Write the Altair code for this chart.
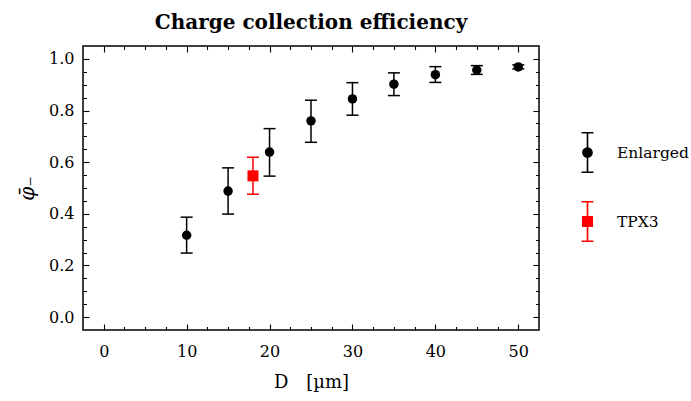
import altair as alt
import pandas as pd

# ---- data ----
D_enl = [10, 15, 20, 25, 30, 35, 40, 45, 50]
phi_enl = [0.317, 0.488, 0.639, 0.760, 0.845, 0.902, 0.939, 0.957, 0.969]
lo_enl = [0.248, 0.399, 0.546, 0.677, 0.782, 0.858, 0.909, 0.940, 0.961]
hi_enl = [0.387, 0.578, 0.730, 0.840, 0.908, 0.946, 0.970, 0.974, 0.977]

D_tpx = [18]
phi_tpx = [0.547]
lo_tpx = [0.476]
hi_tpx = [0.619]

series_names = ["Enlarged", "TPX3"]
series_colors = ["black", "red"]

x_major = [0, 10, 20, 30, 40, 50]
x_minor = [2.5, 5, 7.5, 12.5, 15, 17.5, 22.5, 25, 27.5, 32.5, 35, 37.5, 42.5, 45, 47.5]
y_major = [0.0, 0.2, 0.4, 0.6, 0.8, 1.0]
y_minor = [0.05, 0.1, 0.15, 0.25, 0.3, 0.35, 0.45, 0.5, 0.55, 0.65, 0.7, 0.75,
           0.85, 0.9, 0.95]

rows = []
for d, p, l, h in zip(D_enl, phi_enl, lo_enl, hi_enl):
    rows.append(dict(D=d, phi=p, lo=l, hi=h, series="Enlarged"))
for d, p, l, h in zip(D_tpx, phi_tpx, lo_tpx, hi_tpx):
    rows.append(dict(D=d, phi=p, lo=l, hi=h, series="TPX3"))
df = pd.DataFrame(rows)

FONT = "DejaVu Serif"

# legend symbols: error bar + marker drawn as one custom symbol path
bar = "M-0.04,-1H0.04V1H-0.04Z"
caps = "M-0.29,-1H0.29V-0.93H-0.29ZM-0.29,0.93H0.29V1H-0.29Z"
circ = "M-0.26,0A0.26,0.26 0 1,1 0.26,0A0.26,0.26 0 1,1 -0.26,0Z"
sq = "M-0.27,-0.27H0.27V0.27H-0.27Z"
legend_paths = [bar + caps + circ, bar + caps + sq]


def ax(orient, values, size, labels=False, title="", fmt=None, **kw):
    p = dict(orient=orient, values=values, tickSize=size, offset=-size,
             labels=labels, domain=False, grid=False, ticks=True,
             tickColor="black", tickWidth=1.1, title=title)
    if labels:
        p.update(labelFont=FONT, labelFontSize=16, labelColor="black",
                 format=fmt)
    if title:
        p.update(titleFont=FONT, titleFontSize=18, titleColor="black",
                 titleFontWeight="normal")
    p.update(kw)
    return alt.Axis(**p)


xs = alt.Scale(domain=[-2.5, 52.5], nice=False, zero=False)
ys = alt.Scale(domain=[-0.05, 1.05], nice=False, zero=False)
cs = alt.Scale(domain=series_names, range=series_colors)

base = alt.Chart(df)

rules = base.mark_rule(strokeWidth=1.5).encode(
    x=alt.X("D:Q", scale=xs, axis=ax("bottom", x_major, 6, labels=True,
                                     title="D\u2003[µm]", fmt="d",
                                     labelPadding=13, titlePadding=14)),
    y=alt.Y("lo:Q", scale=ys, axis=ax("left", y_major, 6, labels=True,
                                      title="φ̄₋", fmt=".1f",
                                      labelPadding=9, titlePadding=11,
                                      titleFontSize=20, titleFontStyle="italic")),
    y2="hi:Q",
    color=alt.Color("series:N", scale=cs, legend=None),
)

caps_lo = base.mark_tick(orient="horizontal", size=12, thickness=1.5, opacity=1).encode(
    x=alt.X("D:Q", scale=xs, axis=ax("bottom", x_minor, 3.5)),
    y=alt.Y("lo:Q", scale=ys, axis=ax("left", y_minor, 3.5)),
    color=alt.Color("series:N", scale=cs, legend=None),
)

caps_hi = base.mark_tick(orient="horizontal", size=12, thickness=1.5, opacity=1).encode(
    x=alt.X("D:Q", scale=xs, axis=ax("top", x_major, 6)),
    y=alt.Y("hi:Q", scale=ys, axis=ax("right", y_major, 6)),
    color=alt.Color("series:N", scale=cs, legend=None),
)

points = base.mark_point(filled=True, opacity=1).encode(
    x=alt.X("D:Q", scale=xs, axis=ax("top", x_minor, 3.5)),
    y=alt.Y("phi:Q", scale=ys, axis=ax("right", y_minor, 3.5)),
    color=alt.Color("series:N", scale=cs, legend=None),
    shape=alt.Shape("series:N", scale=alt.Scale(domain=series_names,
                                                 range=["circle", "square"]),
                    legend=None),
    size=alt.condition("datum.series == 'TPX3'", alt.value(121), alt.value(90)),
)

leg = alt.Legend(orient="none", legendX=484, legendY=86, title=None,
                 labelFont=FONT, labelFontSize=15.5, labelColor="black",
                 symbolSize=1681, symbolStrokeWidth=0, labelOffset=9,
                 rowPadding=28, padding=0, symbolOpacity=1)

legend_layer = base.transform_filter("false").mark_point(filled=True, opacity=1).encode(
    x=alt.X("D:Q", scale=xs, axis=None),
    y=alt.Y("phi:Q", scale=ys, axis=None),
    color=alt.Color("series:N", scale=cs, legend=leg),
    shape=alt.Shape("series:N", scale=alt.Scale(domain=series_names,
                                                 range=legend_paths), legend=leg),
)

chart = (
    alt.layer(rules, caps_lo, caps_hi, points, legend_layer)
    .resolve_scale(color="independent", shape="independent")
    .resolve_axis(x="independent", y="independent")
    .properties(
        width=456, height=284,
        background="white",
        title=alt.Title("Charge collection efficiency", font=FONT, fontSize=20,
                        fontWeight="bold", color="black", anchor="middle",
                        offset=12),
        autosize=alt.AutoSizeParams(type="none"),
        padding={"left": 83, "top": 46, "right": 152, "bottom": 71},
    )
    .configure(font=FONT)
    .configure_view(stroke="black", strokeWidth=1.5)
    .configure_legend(labelFont=FONT, labelFontSize=15.5, labelColor="black")
)

chart.save("out.html", embed_options={"renderer": "svg", "actions": False})
